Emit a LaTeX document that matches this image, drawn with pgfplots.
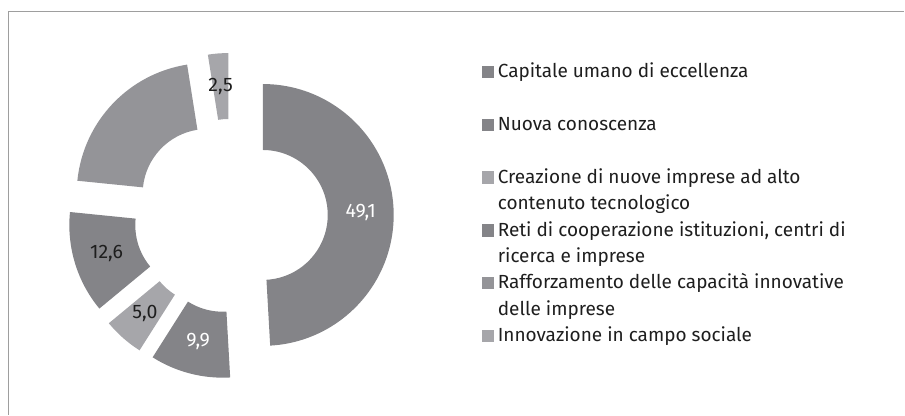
\documentclass[border=0pt]{standalone}
\usepackage{pgfplots}
\usepackage{pgfplotstable}
\pgfplotsset{compat=1.18}
\usepackage{fontspec}
\setmainfont{Fira Sans}
\usetikzlibrary{calc}
\definecolor{cdark}{RGB}{132,132,136}
\definecolor{cmed}{RGB}{148,148,152}
\definecolor{clight}{RGB}{166,166,170}
\definecolor{cframe}{RGB}{158,158,158}
\definecolor{ctext}{RGB}{30,30,30}
\pgfplotstableread[col sep=semicolon]{
value;col;tc;show
49.1;cdark;white;1
9.9;cdark;white;1
5.0;clight;ctext;1
12.6;cdark;ctext;1
20.9;cmed;ctext;0
2.5;clight;ctext;1
}\slices
\def\cx{231}\def\cy{216}\def\Ro{131}\def\Ri{65}\def\off{32}\def\Rl{98}
\begin{document}
\xdef\cum{0}%
\foreach \i in {0,...,5}{%
  \pgfplotstablegetelem{\i}{value}\of{\slices}\let\v\pgfplotsretval
  \pgfmathsetmacro{\aS}{90-3.6*\cum}%
  \pgfmathsetmacro{\aE}{90-3.6*(\cum+\v)}%
  \pgfmathsetmacro{\aM}{(\aS+\aE)/2}%
  \expandafter\xdef\csname aS\i\endcsname{\aS}%
  \expandafter\xdef\csname aE\i\endcsname{\aE}%
  \expandafter\xdef\csname aM\i\endcsname{\aM}%
  \pgfplotstablegetelem{\i}{col}\of{\slices}%
  \expandafter\xdef\csname col\i\endcsname{\pgfplotsretval}%
  \pgfplotstablegetelem{\i}{tc}\of{\slices}%
  \expandafter\xdef\csname tc\i\endcsname{\pgfplotsretval}%
  \pgfplotstablegetelem{\i}{show}\of{\slices}%
  \expandafter\xdef\csname show\i\endcsname{\pgfplotsretval}%
  \pgfmathprintnumberto[use comma,fixed,fixed zerofill,precision=1,assume math mode=true]{\v}{\lab}%
  \expandafter\xdef\csname lab\i\endcsname{\lab}%
  \pgfmathsetmacro{\newcum}{\cum+\v}\xdef\cum{\newcum}%
}%
\begin{tikzpicture}
\begin{axis}[width=905pt,height=415pt,scale only axis,
  xmin=0,xmax=905,ymin=0,ymax=415,y dir=reverse,
  hide axis,clip=false]
\path (axis cs:0,0) rectangle (axis cs:905,415);
\draw[cframe,line width=1.4pt] (axis cs:8.5,415) -- (axis cs:8.5,11.5) -- (axis cs:905,11.5);
\pgfplotsinvokeforeach{0,...,5}{%
  \edef\temp{\noexpand\fill[fill=\csname col#1\endcsname]
    ($(axis cs:\cx,\cy)+(\csname aM#1\endcsname:\off pt)+(\csname aS#1\endcsname:\Ro pt)$)
    arc[start angle=\csname aS#1\endcsname, end angle=\csname aE#1\endcsname, radius=\Ro pt]
    -- ($(axis cs:\cx,\cy)+(\csname aM#1\endcsname:\off pt)+(\csname aE#1\endcsname:\Ri pt)$)
    arc[start angle=\csname aE#1\endcsname, end angle=\csname aS#1\endcsname, radius=\Ri pt]
    -- cycle;}\temp
  \ifnum\csname show#1\endcsname=1
  \edef\temp{\noexpand\node[text=\csname tc#1\endcsname,font=\noexpand\fontsize{19.5}{22}\noexpand\selectfont,inner sep=0pt]
    at ($(axis cs:\cx,\cy)+(\csname aM#1\endcsname:\off pt)+(\csname aM#1\endcsname:\Rl pt)$)
    {\csname lab#1\endcsname};}\temp
  \fi
}
% legend
\fill[cdark]  (axis cs:482,66)  rectangle (axis cs:494,78.5);
\fill[cdark]  (axis cs:482,118.8) rectangle (axis cs:494,131.3);
\fill[clight] (axis cs:482,171.6) rectangle (axis cs:494,184.1);
\fill[cdark]  (axis cs:482,224.4) rectangle (axis cs:494,236.9);
\fill[cmed]   (axis cs:482,277.2) rectangle (axis cs:494,289.7);
\fill[clight] (axis cs:482,330)   rectangle (axis cs:494,342.5);
\begin{scope}[every node/.style={anchor=base west,inner sep=0pt,text=ctext,font=\fontsize{19}{22}\selectfont}]
\node at (axis cs:498,78)    {Capitale umano di eccellenza};
\node at (axis cs:498,130.8) {Nuova conoscenza};
\node at (axis cs:498,183.6) {Creazione di nuove imprese ad alto};
\node at (axis cs:498,210)   {contenuto tecnologico};
\node at (axis cs:498,236.4) {Reti di cooperazione istituzioni, centri di};
\node at (axis cs:498,262.8) {ricerca e imprese};
\node at (axis cs:498,289.2) {Rafforzamento delle capacità innovative};
\node at (axis cs:498,315.6) {delle imprese};
\node at (axis cs:498,342)   {Innovazione in campo sociale};
\end{scope}
\end{axis}
\end{tikzpicture}
\end{document}
